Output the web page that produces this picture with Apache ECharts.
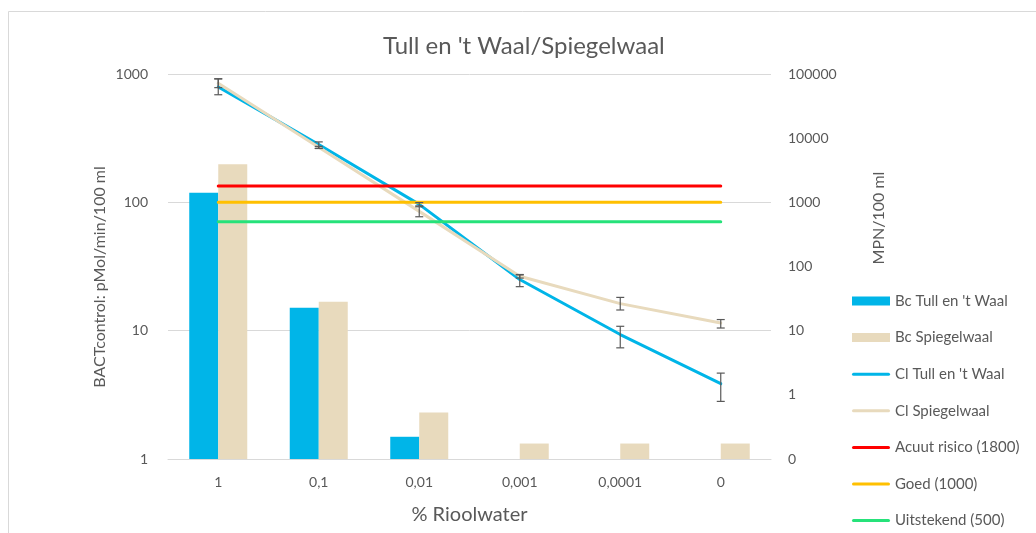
<!DOCTYPE html>
<html>
<head>
<meta charset="utf-8">
<script src="https://cdn.jsdelivr.net/npm/echarts@6/dist/echarts.min.js"></script>
<style>
html,body{margin:0;padding:0;background:#fff;overflow:hidden;}
#c{width:1036px;height:533px;}
</style>
</head>
<body>
<div id="c"></div>
<script>
// ---- data ----
const categories = ['1', '0,1', '0,01', '0,001', '0,0001', '0'];
const leftTicks = ['1', '10', '100', '1000'];
const rightTicks = ['0', '1', '10', '100', '1000', '10000', '100000'];

const bcTull = [119, 15.1, 1.49, null, null, null];
const bcSpiegel = [198, 16.8, 2.3, 1.32, 1.32, 1.32];

const clTull = [63000, 7970, 930, 62.7, 8.7, 1.49];
const clSpiegel = [71600, 7200, 723, 70.6, 26.4, 13.2];

const clTullLow  = [47500, 6900, 880, 48.5, 5.4, 0.79];
const clTullHigh = [84500, 8750, 990, 74, 11.7, 2.18];
const clSpiegelLow  = [61300, 6950, 596, 66, 21, 11.0];
const clSpiegelHigh = [83600, 7450, 853, 75, 33, 14.9];

const acuut = [1800, 1800, 1800, 1800, 1800, 1800];
const goed = [1000, 1000, 1000, 1000, 1000, 1000];
const uitstekend = [500, 500, 500, 500, 500, 500];

const names = {
  bcT: "Bc Tull en 't Waal",
  bcS: 'Bc Spiegelwaal',
  clT: "Cl Tull en 't Waal",
  clS: 'Cl Spiegelwaal',
  ac: 'Acuut risico (1800)',
  go: 'Goed (1000)',
  ui: 'Uitstekend (500)'
};

// ---- styling ----
const FONT = 'Lato';
const TXT = '#595959';
const cBlue = '#00B5E8';
const cBeige = '#E8DABD';
const cRed = '#FF0000';
const cYellow = '#FFC000';
const cGreen = '#26E27A';

function errData(lo, hi) {
  return lo.map((v, i) => [i, v, hi[i]]);
}
function errRender(params, api) {
  const x = api.value(0);
  const pLo = api.coord([x, api.value(1)]);
  const pHi = api.coord([x, api.value(2)]);
  const hw = 4;
  const st = { stroke: '#595959', lineWidth: 1.2 };
  return {
    type: 'group',
    children: [
      { type: 'line', shape: { x1: pLo[0], y1: pLo[1], x2: pHi[0], y2: pHi[1] }, style: st },
      { type: 'line', shape: { x1: pLo[0] - hw, y1: pLo[1], x2: pLo[0] + hw, y2: pLo[1] }, style: st },
      { type: 'line', shape: { x1: pHi[0] - hw, y1: pHi[1], x2: pHi[0] + hw, y2: pHi[1] }, style: st }
    ]
  };
}
function tickLabel(list, offset) {
  return function (v) {
    const e = Math.round(Math.log10(v)) + offset;
    return list[e] !== undefined ? list[e] : String(v);
  };
}

const lineIcon = 'path://M1.5,0 L36.5,0 A1.5,1.5 0 0 1 36.5,3 L1.5,3 A1.5,1.5 0 0 1 1.5,0 Z';

const chart = echarts.init(document.getElementById('c'), null, { renderer: 'canvas', width: 1036, height: 533 });

const option = {
  animation: false,
  backgroundColor: '#fff',
  textStyle: { fontFamily: FONT, color: TXT },
  title: {
    text: "Tull en 't Waal/Spiegelwaal",
    left: 378,
    top: 29,
    textStyle: { fontFamily: FONT, fontSize: 24, fontWeight: 'normal', color: TXT }
  },
  graphic: [
    { type: 'rect', silent: true, z: -10, shape: { x: 8.5, y: 11.5, width: 1100, height: 600 },
      style: { fill: 'none', stroke: '#d9d9d9', lineWidth: 1 } },
    { type: 'text', x: 100, y: 277, rotation: Math.PI / 2, silent: true,
      style: { text: 'BACTcontrol: pMol/min/100 ml', fill: TXT, font: '16px Lato',
        textAlign: 'center', textVerticalAlign: 'middle' } },
    { type: 'text', x: 879, y: 218, rotation: Math.PI / 2, silent: true,
      style: { text: 'MPN/100 ml', fill: TXT, font: '16px Lato',
        textAlign: 'center', textVerticalAlign: 'middle' } }
  ],
  legend: {
    orient: 'vertical',
    left: 852,
    top: 293,
    padding: 0,
    itemWidth: 38,
    itemHeight: 9,
    itemGap: 20.6,
    textStyle: { fontFamily: FONT, fontSize: 15, color: TXT, lineHeight: 16 },
    data: [
      { name: names.bcT, icon: 'rect', itemStyle: { color: cBlue, borderWidth: 0 } },
      { name: names.bcS, icon: 'rect', itemStyle: { color: cBeige, borderWidth: 0 } },
      { name: names.clT, icon: lineIcon, itemStyle: { color: cBlue, borderWidth: 0 } },
      { name: names.clS, icon: lineIcon, itemStyle: { color: cBeige, borderWidth: 0 } },
      { name: names.ac, icon: lineIcon, itemStyle: { color: cRed, borderWidth: 0 } },
      { name: names.go, icon: lineIcon, itemStyle: { color: cYellow, borderWidth: 0 } },
      { name: names.ui, icon: lineIcon, itemStyle: { color: cGreen, borderWidth: 0 } }
    ]
  },
  grid: { left: 168, right: 265, top: 74, bottom: 74, containLabel: false },
  xAxis: {
    type: 'category',
    data: categories,
    boundaryGap: true,
    axisLine: { show: true, lineStyle: { color: '#d9d9d9', width: 1 } },
    axisTick: { show: false },
    axisLabel: { color: TXT, fontFamily: FONT, fontSize: 14, margin: 16 },
    name: '% Rioolwater',
    nameLocation: 'middle',
    nameGap: 46,
    nameTextStyle: { color: TXT, fontFamily: FONT, fontSize: 20 }
  },
  yAxis: [
    {
      type: 'log',
      logBase: 10,
      min: 1,
      max: 1000,
      interval: 1,
      splitNumber: 3,
      axisLine: { show: false },
      axisTick: { show: false },
      axisLabel: { color: TXT, fontFamily: FONT, fontSize: 14, margin: 20, formatter: tickLabel(leftTicks, 0) },
      splitLine: { show: true, lineStyle: { color: '#d9d9d9', width: 1 } }
    },
    {
      type: 'log',
      logBase: 10,
      min: 0.1,
      max: 100000,
      interval: 1,
      splitNumber: 6,
      axisLine: { show: false },
      axisTick: { show: false },
      splitLine: { show: false },
      axisLabel: { color: TXT, fontFamily: FONT, fontSize: 14, margin: 17, formatter: tickLabel(rightTicks, 1) }
    }
  ],
  series: [
    { name: names.bcT, type: 'bar', yAxisIndex: 0, data: bcTull, barWidth: 29, barGap: '0%',
      itemStyle: { color: cBlue } },
    { name: names.bcS, type: 'bar', yAxisIndex: 0, data: bcSpiegel, barWidth: 29, barGap: '0%',
      itemStyle: { color: cBeige } },
    { name: names.clT, type: 'line', yAxisIndex: 1, data: clTull, symbol: 'none', z: 3,
      lineStyle: { color: cBlue, width: 3, cap: 'round', join: 'round' }, itemStyle: { color: cBlue } },
    { name: names.clS, type: 'line', yAxisIndex: 1, data: clSpiegel, symbol: 'none', z: 3,
      lineStyle: { color: cBeige, width: 3, cap: 'round', join: 'round' }, itemStyle: { color: cBeige } },
    { name: names.ac, type: 'line', yAxisIndex: 1, data: acuut, symbol: 'none', z: 4,
      lineStyle: { color: cRed, width: 3, cap: 'round' }, itemStyle: { color: cRed } },
    { name: names.go, type: 'line', yAxisIndex: 1, data: goed, symbol: 'none', z: 4,
      lineStyle: { color: cYellow, width: 3, cap: 'round' }, itemStyle: { color: cYellow } },
    { name: names.ui, type: 'line', yAxisIndex: 1, data: uitstekend, symbol: 'none', z: 4,
      lineStyle: { color: cGreen, width: 3, cap: 'round' }, itemStyle: { color: cGreen } },
    { name: 'errTull', type: 'custom', yAxisIndex: 1, z: 5, renderItem: errRender,
      data: errData(clTullLow, clTullHigh), encode: { x: 0, y: [1, 2] }, silent: true },
    { name: 'errSpiegel', type: 'custom', yAxisIndex: 1, z: 5, renderItem: errRender,
      data: errData(clSpiegelLow, clSpiegelHigh), encode: { x: 0, y: [1, 2] }, silent: true }
  ]
};
chart.setOption(option);
</script>
</body>
</html>
